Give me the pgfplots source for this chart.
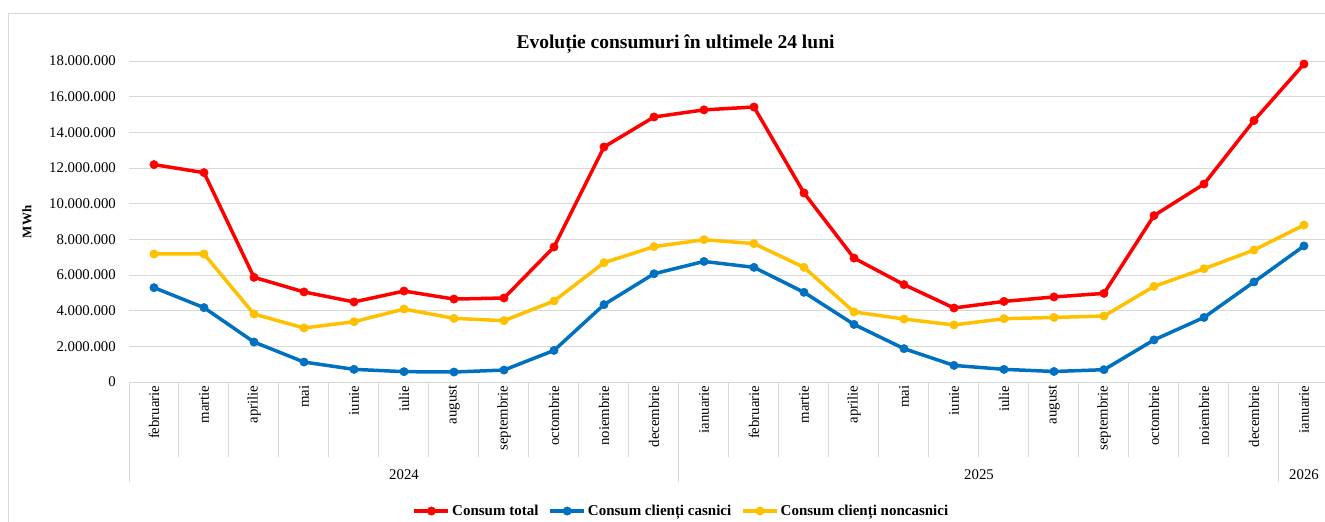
\documentclass[border=0pt]{standalone}
\usepackage{fontspec}
\setmainfont{Liberation Serif}
\usepackage{pgfplots}
\usepackage{pgfplotstable}
\pgfplotsset{compat=1.18}

\definecolor{ctotal}{HTML}{FF0000}
\definecolor{ccasnic}{HTML}{0070C0}
\definecolor{cnoncasnic}{HTML}{FFC000}
\definecolor{gridgray}{HTML}{D9D9D9}

% consum lunar, MWh (februarie 2024 - ianuarie 2026)
\pgfplotstableread{
idx total casnici noncasnici
0 12190000 5290000 7180000
1 11740000 4170000 7180000
2 5870000 2240000 3810000
3 5050000 1120000 3030000
4 4490000 710000 3380000
5 5100000 580000 4090000
6 4650000 560000 3570000
7 4710000 670000 3440000
8 7570000 1770000 4540000
9 13180000 4340000 6690000
10 14860000 6070000 7590000
11 15260000 6760000 7980000
12 15420000 6430000 7760000
13 10600000 5030000 6430000
14 6950000 3230000 3930000
15 5460000 1870000 3530000
16 4150000 930000 3200000
17 4520000 710000 3550000
18 4770000 590000 3620000
19 4970000 690000 3700000
20 9330000 2360000 5360000
21 11100000 3620000 6350000
22 14660000 5610000 7400000
23 17830000 7630000 8800000
}\consum

\newcommand{\tickfont}{\fontsize{14.8bp}{17bp}\selectfont}

\begin{document}
\begin{tikzpicture}
\useasboundingbox (0bp,0bp) rectangle (1325bp,-522bp);
\draw[gridgray, line width=1bp] (8bp,-522bp) -- (8bp,-13bp) -- (1325bp,-13bp);

\begin{axis}[
    at={(129bp,-382bp)}, anchor=south west,
    scale only axis, width=1200bp, height=321bp,
    xmin=-0.5, xmax=23.5, ymin=0, ymax=18000000,
    clip=false,
    axis lines*=left,
    x axis line style={gridgray, line width=1bp},
    y axis line style={draw=none},
    ymajorgrids,
    grid style={gridgray, line width=1bp},
    ytick={0,2000000,4000000,6000000,8000000,10000000,12000000,14000000,16000000,18000000},
    scaled y ticks=false,
    yticklabel={\pgfmathprintnumber{\tick}},
    yticklabel style={/pgf/number format/.cd, fixed, precision=0, 1000 sep={.}, assume math mode=true,
        /tikz/.cd, font=\tickfont, anchor=east, inner sep=0pt, xshift=-13bp},
    xtick={0,...,23},
    xticklabels={februarie,martie,aprilie,mai,iunie,iulie,august,septembrie,octombrie,noiembrie,decembrie,
        ianuarie,februarie,martie,aprilie,mai,iunie,iulie,august,septembrie,octombrie,noiembrie,decembrie,
        ianuarie},
    xticklabel style={font=\tickfont, rotate=90, anchor=east},
    major tick length=0pt,
    minor xtick={-0.5,0.5,...,23.5},
    minor tick length=75bp,
    tick align=outside,
    tick style={gridgray, line width=1bp},
    extra x ticks={-0.5,10.5,22.5},
    extra x tick labels={},
    extra x tick style={major tick length=100bp},
    legend style={at={(0.4604,-0.402)}, anchor=center, draw=none, legend columns=3,
        font=\bfseries\fontsize{15bp}{17bp}\selectfont,
        /tikz/every even column/.append style={column sep=8bp}},
    legend image code/.code={\draw[mark repeat=2, mark phase=2, #1]
        plot coordinates {(0bp,0bp) (17bp,0bp) (34bp,0bp)};},
    every axis plot/.append style={line width=3.5bp, line join=round, mark=*, mark size=4.2bp,
        mark options={line width=0.5bp}},
]
\addplot[color=ctotal] table[x=idx, y=total] {\consum};
\addlegendentry{Consum total}
\addplot[color=ccasnic] table[x=idx, y=casnici] {\consum};
\addlegendentry{Consum clienți casnici}
\addplot[color=cnoncasnic] table[x=idx, y=noncasnici] {\consum};
\addlegendentry{Consum clienți noncasnici}
\end{axis}

\node[font=\bfseries\fontsize{19.5bp}{22bp}\selectfont, anchor=base] at (675.5bp,-48bp)
    {Evoluție consumuri în ultimele 24 luni};
\node[font=\bfseries\fontsize{13bp}{15bp}\selectfont, rotate=90] at (27bp,-222bp) {MWh};
\node[font=\tickfont] at (404bp,-475bp) {2024};
\node[font=\tickfont] at (979bp,-475bp) {2025};
\node[font=\tickfont] at (1304bp,-475bp) {2026};
\end{tikzpicture}
\end{document}
